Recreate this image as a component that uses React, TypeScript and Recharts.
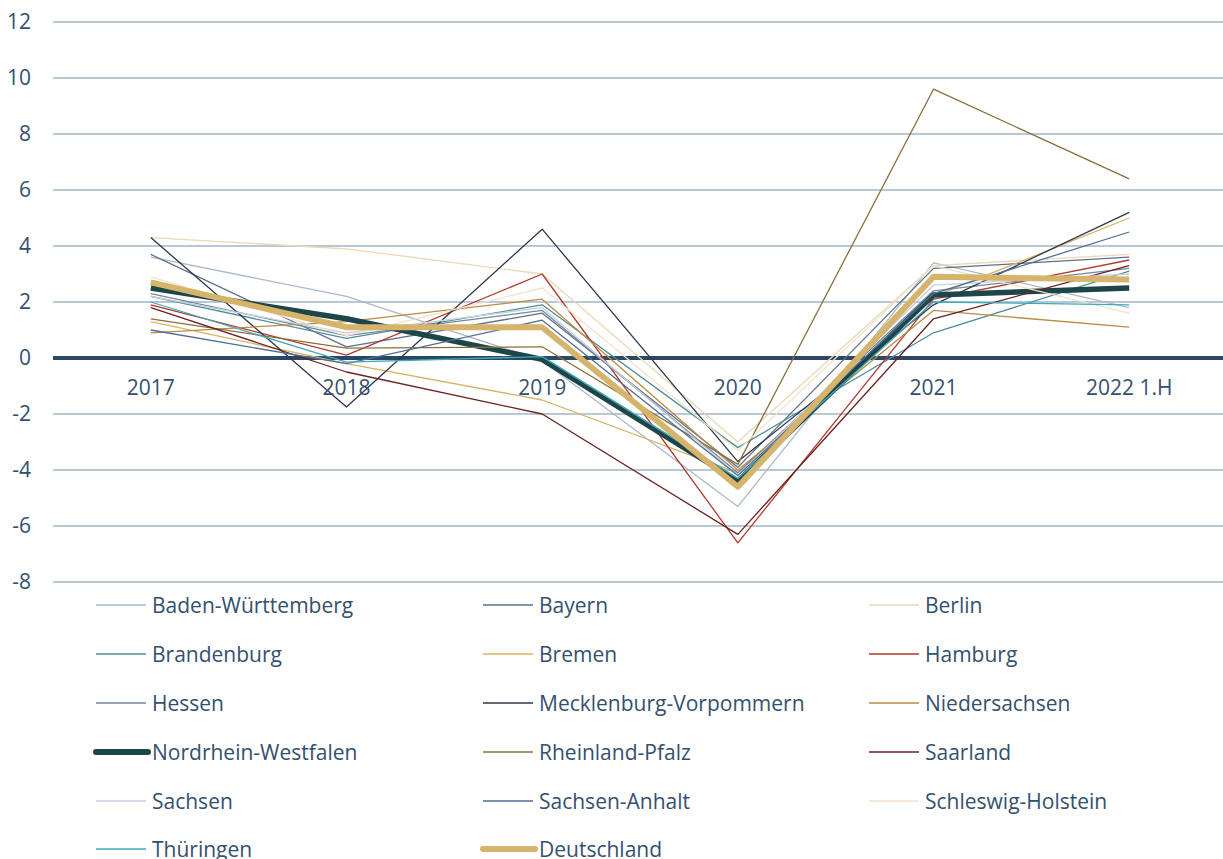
import React from 'react';
import { LineChart, Line, XAxis, YAxis, CartesianGrid, ReferenceLine, Legend } from 'recharts';

const categories = ['2017', '2018', '2019', '2020', '2021', '2022 1.H'];
const yTicks = [-8, -6, -4, -2, 0, 2, 4, 6, 8, 10, 12];

const badenWuerttemberg = [3.6, 2.2, -0.1, -5.3, 3.4, 1.8];
const bayern = [3.7, 0.4, 1.6, -3.9, 3.2, 3.6];
const berlin = [4.3, 3.9, 3.0, -3.0, 3.3, 3.7];
const brandenburg = [2.2, 0.7, 1.9, -3.2, 0.9, 3.1];
const bremen = [1.3, -0.2, -1.5, -4.1, 2.2, 5.0];
const hamburg = [1.9, 0.1, 3.0, -6.6, 2.1, 3.5];
const hessen = [2.3, 0.8, 1.7, -4.1, 2.4, 3.2];
const mecklenburgVorpommern = [4.3, -1.75, 4.6, -3.7, 1.9, 5.2];
const niedersachsen = [0.9, 1.3, 2.1, -4.0, 1.7, 1.1];
const nordrheinWestfalen = [2.5, 1.4, -0.05, -4.4, 2.25, 2.5];
const rheinlandPfalz = [1.4, 0.35, 0.4, -3.8, 9.6, 6.4];
const saarland = [1.8, -0.5, -2.0, -6.3, 1.4, 3.3];
const sachsen = [2.2, 0.9, 1.8, -4.2, 2.6, 3.0];
const sachsenAnhalt = [1.0, -0.2, 1.35, -4.2, 2.3, 4.5];
const schleswigHolstein = [2.9, 0.8, 2.5, -3.3, 3.3, 1.6];
const thueringen = [2.0, -0.15, 0.05, -4.3, 2.0, 1.9];
const deutschland = [2.7, 1.1, 1.1, -4.6, 2.9, 2.8];

const seriesNames = [
  'Baden-Württemberg', 'Bayern', 'Berlin',
  'Brandenburg', 'Bremen', 'Hamburg',
  'Hessen', 'Mecklenburg-Vorpommern', 'Niedersachsen',
  'Nordrhein-Westfalen', 'Rheinland-Pfalz', 'Saarland',
  'Sachsen', 'Sachsen-Anhalt', 'Schleswig-Holstein',
  'Thüringen', 'Deutschland',
];
const seriesValues = [
  badenWuerttemberg, bayern, berlin,
  brandenburg, bremen, hamburg,
  hessen, mecklenburgVorpommern, niedersachsen,
  nordrheinWestfalen, rheinlandPfalz, saarland,
  sachsen, sachsenAnhalt, schleswigHolstein,
  thueringen, deutschland,
];

// styles (kept separate from data)
const seriesColors = [
  '#a9b9cc', '#5f7189', '#ebd8b5',
  '#4f8f98', '#d8b265', '#b1392f',
  '#7487a0', '#2c3849', '#bb8b40',
  '#1e4548', '#8a6f3c', '#6c2020',
  '#c6cfdb', '#4e6f99', '#f1e2cb',
  '#3faab9', '#d6b46b',
];
const seriesWidths = [
  1.3, 1.3, 1.3,
  1.3, 1.3, 1.3,
  1.3, 1.3, 1.3,
  5.5, 1.3, 1.3,
  1.3, 1.3, 1.3,
  1.3, 6,
];

const FONT = '"Open Sans", Lato, sans-serif';
const FS = 21;
const TEXT = '#34506e';
const GRID = '#b9c8d6';

const data = categories.map((c, i) => {
  const row: Record<string, any> = { year: c };
  seriesNames.forEach((n, k) => {
    row[n] = seriesValues[k][i];
  });
  return row;
});

const renderXTick = (props: any) => {
  const { x, y, payload } = props;
  return (
    <text x={x} y={y - 194.5} dy="0.355em" textAnchor="middle" fill={TEXT} fontSize={FS} fontFamily={FONT}>
      {payload.value}
    </text>
  );
};

const colStarts = [96, 483, 869];

const LegendContent = () => {
  return (
    <div style={{ position: 'relative', width: 1227, height: 293 }}>
      {seriesNames.map((n, i) => {
        const col = i % 3;
        const row = Math.floor(i / 3);
        const thick = seriesWidths[i] > 3;
        return (
          <div
            key={n}
            style={{
              position: 'absolute',
              left: colStarts[col] - 3,
              top: row * 48.8 - 2,
              height: 48.8,
              display: 'flex',
              alignItems: 'center',
              whiteSpace: 'nowrap',
            }}
          >
            <svg width={60} height={10} style={{ display: 'block' }}>
              <line
                x1={3}
                x2={thick ? 55 : 53}
                y1={5}
                y2={5}
                stroke={seriesColors[i]}
                strokeWidth={thick ? 6 : 1.5}
                strokeLinecap={thick ? 'round' : 'butt'}
              />
            </svg>
            <span style={{ fontFamily: FONT, fontSize: FS, color: TEXT, marginLeft: -1, lineHeight: '24px' }}>{n}</span>
          </div>
        );
      })}
    </div>
  );
};

export default function App() {
  return (
    <div style={{ position: 'absolute', left: 0, top: 0, width: 1223, height: 859, overflow: 'hidden', background: '#fff' }}>
      <LineChart
        width={1227}
        height={881}
        data={data}
        margin={{ top: 22, right: 0, bottom: 5, left: 0 }}
      >
        <CartesianGrid horizontal={true} vertical={false} stroke={GRID} strokeWidth={2} />
        <XAxis
          dataKey="year"
          height={1}
          axisLine={false}
          tickLine={false}
          tickSize={0}
          tickMargin={0}
          padding={{ left: 97.8, right: 97.8 }}
          tick={renderXTick}
          interval={0}
        />
        <YAxis
          width={53}
          domain={[-8, 12]}
          ticks={yTicks}
          interval={0}
          axisLine={false}
          tickLine={false}
          tickSize={0}
          tickMargin={22}
          tick={{ fill: TEXT, fontSize: FS, fontFamily: FONT }}
        />
        <ReferenceLine y={0} stroke="#2c4766" strokeWidth={4} />
        {seriesNames.map((n, i) => (
          <Line
            key={n}
            type="linear"
            dataKey={n}
            stroke={seriesColors[i]}
            strokeWidth={seriesWidths[i]}
            dot={false}
            activeDot={false}
            isAnimationActive={false}
            strokeLinejoin="round"
          />
        ))}
        <Legend verticalAlign="bottom" align="left" content={<LegendContent />} wrapperStyle={{ left: 0, width: 1227 }} />
      </LineChart>
    </div>
  );
}
